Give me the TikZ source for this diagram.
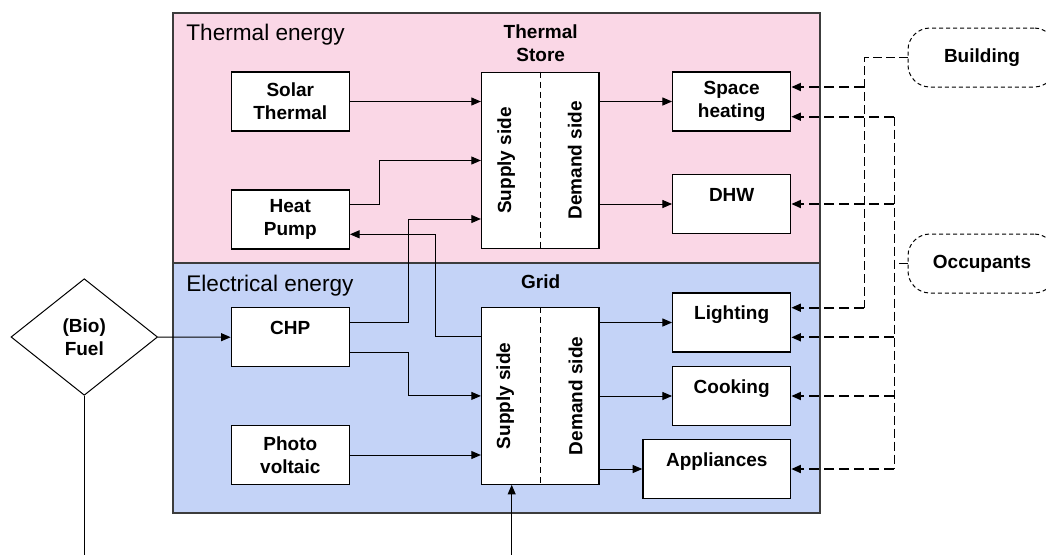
\documentclass[tikz,border=0pt]{standalone}
\usepackage{fontspec}
\setmainfont{Liberation Sans}
\usepackage{xcolor}
\definecolor{thpink}{RGB}{250,215,230}
\definecolor{elblue}{RGB}{196,211,247}
\definecolor{edgegray}{RGB}{60,60,60}
\usepackage{tikz}
\usetikzlibrary{arrows.meta, positioning, shapes.geometric, calc}

\tikzset{
  boldtext/.style={font=\fontsize{9.5}{11.4}\selectfont\bfseries},
  unit/.style={draw, fill=white, line width=0.65pt, minimum width=59pt, minimum height=29.5pt,
    inner sep=0pt, align=center, boldtext},
  topunit/.style={unit, text height=13.3pt, text depth=16.2pt},
  tank/.style={unit, minimum width=58.75pt, minimum height=88.3pt},
  sidelabel/.style={rotate=90, inner sep=0pt, boldtext},
  regionlabel/.style={inner sep=0pt, font=\fontsize{11.3}{13}\selectfont},
  region/.style={draw=edgegray, line width=0.65pt},
  divider/.style={line width=0.5pt, dash pattern=on 3pt off 2pt},
  flow/.style={line width=0.5pt, -{Triangle[length=4.8pt,width=4pt]}},
  link/.style={line width=0.9pt, dash pattern=on 5pt off 2.5pt, -{Triangle[length=4.8pt,width=4pt]}},
  bus/.style={line width=0.5pt, dash pattern=on 4.5pt off 2pt},
  party/.style={draw, line width=0.5pt, dash pattern=on 2pt off 1.5pt, rounded corners=11pt,
    minimum width=74pt, minimum height=29.5pt, boldtext},
  fuelbox/.style={draw, diamond, fill=white, line width=0.5pt, inner sep=0pt, aspect=1.26,
    minimum width=73.3pt, minimum height=58.3pt, align=center, boldtext}
}

\begin{document}
\begin{tikzpicture}[x=0.5pt, y=-0.5pt]
  \useasboundingbox (0,0) rectangle (1046,554);
  \clip (0,0) rectangle (1046,554);

  % Thermal energy
  \draw[region, fill=thpink] (173,13) rectangle (820,263);
  \node[regionlabel, anchor=base west] (thlabel) at (186,40.7) {Thermal energy};
  \node[boldtext, align=center, inner sep=0pt] (storetitle) at (540.7,43) {Thermal\\Store};
  \node[unit] (solar) at (290.3,101.5) {Solar\\Thermal};
  \node[unit] (heatpump) at (290.3,219.5) {Heat\\Pump};
  \node[tank] (store) at (540.3,160.5) {};
  \draw[divider] (store.north) -- (store.south);
  \node[sidelabel] (storesupply) at ([xshift=-17pt]store.center) {Supply side};
  \node[sidelabel] (storedemand) at ([xshift=17.3pt]store.center) {Demand side};
  \node[unit] (space) at (731.7,101.5) {Space\\heating};
  \node[topunit] (dhw) at (731.7,204) {DHW};

  % Electrical energy
  \draw[region, fill=elblue] (173,263) rectangle (820,513);
  \node[regionlabel, anchor=base west] (ellabel) at (186,291.7) {Electrical energy};
  \node[boldtext, inner sep=0pt] (gridtitle) at (540.7,281.5) {Grid};
  \node[topunit] (chp) at (290.3,337.2) {CHP};
  \node[unit] (pv) at (290.3,455) {Photo\\voltaic};
  \node[tank] (grid) at (540.3,395.9) {};
  \draw[divider] (grid.north) -- (grid.south);
  \node[sidelabel] (gridsupply) at ([xshift=-17.5pt]grid.center) {Supply side};
  \node[sidelabel] (griddemand) at ([xshift=17.7pt]grid.center) {Demand side};
  \node[topunit] (lighting) at (731.7,322.5) {Lighting};
  \node[topunit] (cooking) at (731.7,396) {Cooking};
  \node[topunit, minimum width=73.85pt] (appliances) at (716.8,469) {Appliances};

  % Outside
  \node[fuelbox] (fuel) at (84.3,337) {(Bio)\\Fuel};
  \node[party] (building) at (982,57.5) {Building};
  \node[party] (occupants) at (982,263.5) {Occupants};
  \coordinate (fuelend) at (84.3,560);
  \coordinate (gridfeed) at (511.7,560);
  \coordinate (bbus) at (864,0);
  \coordinate (obus) at (894,0);
  \coordinate (sh1) at ([yshift=7.25pt]space.east);
  \coordinate (sh2) at ([yshift=-7.6pt]space.east);
  \coordinate (li1) at ([yshift=7.4pt]lighting.east);
  \coordinate (li2) at ([yshift=-7.4pt]lighting.east);

  % supply lines
  \draw[flow] (solar.east) -- (solar.east -| store.west);
  \draw[flow] ([yshift=7.75pt]heatpump.east) -- ++(29.4,0) |- (store.west);
  \draw[flow] ([yshift=7.6pt]chp.east) -- ++(59,0) |- ([yshift=-29.25pt]store.west);
  \draw[flow] ([yshift=29.6pt]grid.west) -- ++(-45,0) |- ([yshift=-7.4pt]heatpump.east);
  \draw[flow] ([yshift=-7.4pt]chp.east) -- ++(59,0) |- (grid.west);
  \draw[flow] (pv.east) -- (pv.east -| grid.west);
  \draw[flow] (fuel.east) -- (chp.west);
  \draw (fuel.south) -- (fuelend);
  \draw[flow] (gridfeed) -- (gridfeed |- grid.south);

  % demand lines
  \draw[flow] (store.east |- space.west) -- (space.west);
  \draw[flow] (store.east |- dhw.west) -- (dhw.west);
  \draw[flow] (grid.east |- lighting.west) -- (lighting.west);
  \draw[flow] (grid.east |- cooking.west) -- (cooking.west);
  \draw[flow] (grid.east |- appliances.west) -- (appliances.west);

  % building and occupants
  \draw[bus] (building.west) -| (bbus |- li1);
  \draw[link] (bbus |- li1) -- (li1);
  \draw[link] (bbus |- sh1) -- (sh1);
  \draw[bus] (occupants.west) -- (obus |- occupants.west);
  \draw[bus] (obus |- sh2) -- (obus |- appliances.east);
  \draw[link] (obus |- sh2) -- (sh2);
  \draw[link] (obus |- dhw.east) -- (dhw.east);
  \draw[link] (obus |- li2) -- (li2);
  \draw[link] (obus |- cooking.east) -- (cooking.east);
  \draw[link] (obus |- appliances.east) -- (appliances.east);
\end{tikzpicture}
\end{document}
